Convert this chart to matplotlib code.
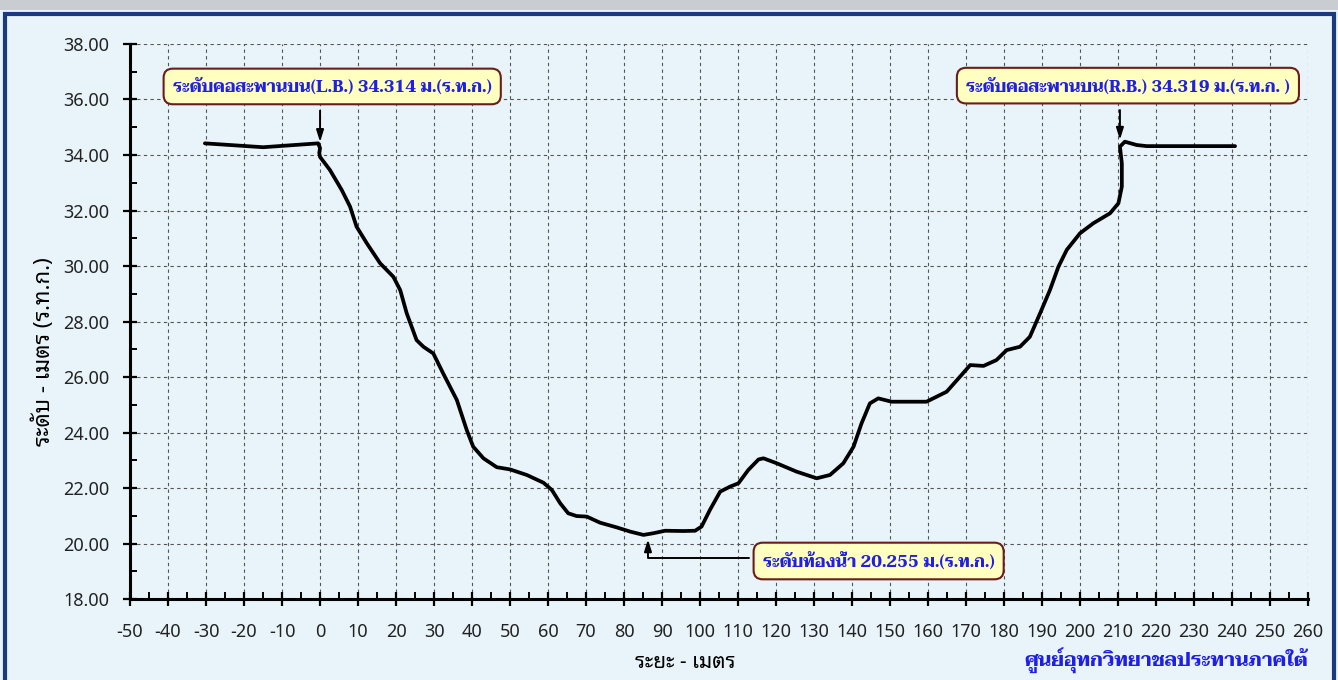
import matplotlib
matplotlib.use("Agg")
import matplotlib.pyplot as plt
from matplotlib import font_manager
from matplotlib.patches import Rectangle
from matplotlib.ticker import MultipleLocator, FormatStrFormatter

# cross-section survey (distance m, elevation m MSL)
distance = [-30.3, -15.0, -0.5, 0.0, -0.2, 0.0, 2.6, 5.7, 7.9, 9.6, 12.3, 15.8, 19.3, 21.1,
            22.8, 25.4, 27.2, 29.8, 32.4, 36.0, 38.6, 40.3, 43.0, 46.5, 50.0, 54.4, 58.8,
            61.0, 63.2, 65.3, 67.5, 70.2, 73.7, 78.1, 81.6, 85.1, 87.7, 90.8, 95.6, 98.7,
            100.4, 102.6, 105.3, 107.9, 110.1, 112.7, 115.4, 116.7, 120.2, 125.4, 130.7,
            134.2, 137.7, 140.4, 142.5, 144.7, 146.9, 150.4, 159.6, 164.9, 168.4, 171.1,
            174.6, 178.0, 180.7, 184.2, 186.8, 189.5, 192.1, 194.3, 196.5, 200.0, 203.5,
            207.9, 210.1, 211.0, 211.0, 210.5, 211.8, 214.9, 217.5, 240.8]
elevation = [34.42, 34.28, 34.42, 34.25, 34.07, 33.93, 33.46, 32.74, 32.14, 31.42, 30.82,
             30.10, 29.61, 29.13, 28.30, 27.33, 27.09, 26.85, 26.13, 25.17, 24.09, 23.49,
             23.07, 22.75, 22.67, 22.47, 22.19, 21.93, 21.45, 21.09, 20.99, 20.97, 20.75,
             20.58, 20.43, 20.31, 20.37, 20.46, 20.45, 20.46, 20.61, 21.21, 21.87, 22.05,
             22.17, 22.65, 23.03, 23.07, 22.89, 22.59, 22.35, 22.47, 22.89, 23.49, 24.33,
             25.05, 25.23, 25.11, 25.11, 25.47, 26.01, 26.43, 26.40, 26.61, 26.97, 27.09,
             27.45, 28.30, 29.14, 29.97, 30.58, 31.18, 31.54, 31.90, 32.26, 32.86, 33.70,
             34.30, 34.48, 34.36, 34.32, 34.32]

left_bank = 34.314
right_bank = 34.319
bed_level = 20.255

avail = {f.name for f in font_manager.fontManager.ttflist}


def pick(*names):
    for n in names:
        if n in avail:
            return n
    return "DejaVu Sans"


serif_th = pick("Taviraj", "Trirong", "Noto Serif Thai", "Pridi")
sans_th = pick("Noto Sans Thai Looped", "Sarabun", "Noto Sans Thai", "Krub")

bg = "#e8f4fa"
fig = plt.figure(figsize=(13.38, 6.8), dpi=100, facecolor=bg)
# top shadow strip and frame
fig.patches.append(Rectangle((0, 0.985), 1, 0.015, transform=fig.transFigure,
                             facecolor="#c9cdd2", edgecolor="none", zorder=0))
fig.patches.append(Rectangle((0.004, -0.01), 0.993, 0.99, transform=fig.transFigure,
                             facecolor="none", edgecolor="#1b3a7e", lw=3, zorder=1))

ax = fig.add_axes([0.0972, 0.1191, 0.8804, 0.8162])
ax.set_facecolor(bg)
ax.plot(distance, elevation, color="black", lw=2.7, solid_joinstyle="round",
        solid_capstyle="round", zorder=3)

ax.set_xlim(-50, 260)
ax.set_ylim(18, 38)
ax.xaxis.set_major_locator(MultipleLocator(10))
ax.xaxis.set_minor_locator(MultipleLocator(5))
ax.yaxis.set_major_locator(MultipleLocator(2))
ax.yaxis.set_minor_locator(MultipleLocator(1))
ax.yaxis.set_major_formatter(FormatStrFormatter("%.2f"))
ax.grid(True, which="major", color="#555555", ls=(0, (3, 3)), lw=0.8)
for s in ["top", "right"]:
    ax.spines[s].set_visible(False)
for s in ["left", "bottom"]:
    ax.spines[s].set_linewidth(2.2)
ax.tick_params(which="major", direction="inout", length=10, width=1.6, labelsize=13)
ax.tick_params(axis="x", which="major", pad=12)
ax.tick_params(axis="y", which="major", pad=10)
ax.tick_params(which="minor", direction="in", length=5, width=1.4)
for lab in ax.get_xticklabels() + ax.get_yticklabels():
    lab.set_fontfamily(sans_th)
    lab.set_color("#222222")

ax.set_xlabel("ระยะ - เมตร", fontsize=15, fontweight="bold", family=sans_th, labelpad=4)
ax.xaxis.set_label_coords(0.471, -0.095)
ax.set_ylabel("ระดับ - เมตร (ร.ท.ก.)", fontsize=16, fontweight="bold", family=sans_th)
ax.yaxis.set_label_coords(-0.064, 0.445)

box = dict(boxstyle="round,pad=0.55,rounding_size=0.55", facecolor="#ffffc0",
           edgecolor="#6b1c1c", lw=1.5)
tstyle = dict(fontsize=12, fontweight="bold", color="#1f1fe6", family=serif_th,
              ha="center", va="center", zorder=5)
arrow = dict(arrowstyle="-|>,head_length=0.7,head_width=0.22", color="black", lw=1.4,
             shrinkA=0, shrinkB=0)

ax.text(3.2, 36.47, "ระดับคอสะพานบน(L.B.) %.3f ม.(ร.ท.ก.)" % left_bank, bbox=box, **tstyle)
ax.annotate("", xy=(0, 34.47), xytext=(0, 35.6), arrowprops=arrow, zorder=4)

ax.text(212.6, 36.5, "ระดับคอสะพานบน(R.B.) %.3f ม.(ร.ท.ก. )" % right_bank, bbox=box, **tstyle)
ax.annotate("", xy=(210.5, 34.55), xytext=(210.5, 35.62), arrowprops=arrow, zorder=4)

ax.text(147.0, 19.37, "ระดับท้องน้ำ %.3f ม.(ร.ท.ก.)" % bed_level, bbox=box, **tstyle)
ax.annotate("", xy=(86.3, 20.15), xytext=(112.9, 19.48),
            arrowprops=dict(arrow, connectionstyle="angle,angleA=0,angleB=90,rad=0"),
            zorder=4)

fig.text(0.978, 0.028, "ศูนย์อุทกวิทยาชลประทานภาคใต้", fontsize=14, fontweight="bold",
         color="#1f1fe6", family=serif_th, ha="right", va="center")

fig.savefig("out.png", dpi=100, facecolor=bg)
